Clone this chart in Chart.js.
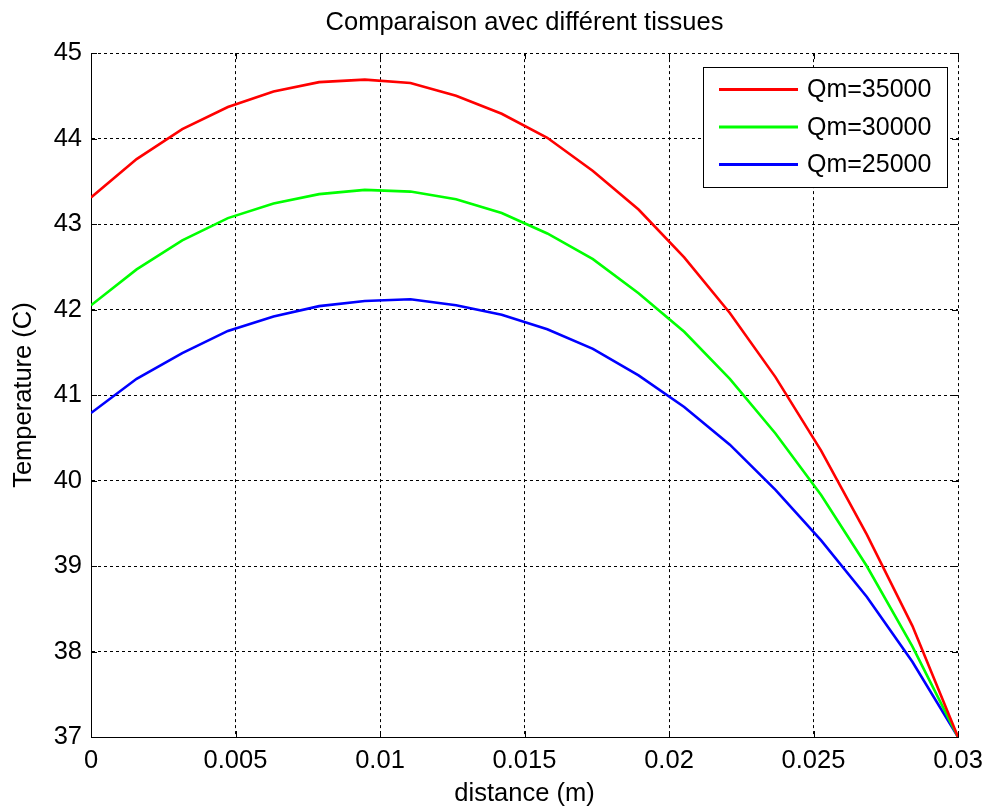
<!DOCTYPE html>
<html>
<head>
<meta charset="utf-8">
<script src="https://cdn.jsdelivr.net/npm/chart.js@4.4.0/dist/chart.umd.min.js"></script>
<style>
  body { margin: 0; background: #fff; }
  canvas { display: block; }
</style>
</head>
<body>
<canvas id="myChart" width="986" height="807"></canvas>
<script>
// distance (m), 20 samples from 0 to 0.03
const distance = [0, 0.001579, 0.003158, 0.004737, 0.006316, 0.007895, 0.009474, 0.011053, 0.012632, 0.014211,
                  0.015789, 0.017368, 0.018947, 0.020526, 0.022105, 0.023684, 0.025263, 0.026842, 0.028421, 0.03];
const qm35000 = [43.31, 43.76, 44.11, 44.37, 44.55, 44.66, 44.69, 44.65, 44.50, 44.29,
                 44.01, 43.62, 43.17, 42.61, 41.96, 41.21, 40.35, 39.37, 38.30, 37.0];
const qm30000 = [42.05, 42.47, 42.81, 43.07, 43.24, 43.35, 43.40, 43.38, 43.29, 43.13,
                 42.89, 42.59, 42.19, 41.74, 41.19, 40.55, 39.83, 39.00, 38.06, 37.0];
const qm25000 = [40.79, 41.19, 41.49, 41.75, 41.92, 42.04, 42.10, 42.12, 42.05, 41.94,
                 41.77, 41.54, 41.23, 40.86, 40.42, 39.89, 39.30, 38.64, 37.88, 37.0];
const seriesNames = ['Qm=35000', 'Qm=30000', 'Qm=25000'];
const xTicks = [0, 0.005, 0.01, 0.015, 0.02, 0.025, 0.03];
const yTicks = [37, 38, 39, 40, 41, 42, 43, 44, 45];

const FONT = "'Liberation Sans', Arial, Helvetica, sans-serif";
Chart.defaults.font.family = FONT;
Chart.defaults.color = '#000';

const pts = arr => arr.map((v, i) => ({x: distance[i], y: v}));

// MATLAB style: inward tick marks, legend box inside the axes
const matlabAxes = {
    id: 'matlabAxes',
    beforeDatasetsDraw(chart) {
        const {ctx, chartArea: a, scales: {x, y}} = chart;
        ctx.save();
        ctx.strokeStyle = '#000';
        ctx.lineWidth = 1;
        ctx.beginPath();
        xTicks.forEach(t => {
            const px = Math.round(x.getPixelForValue(t)) + 0.5;
            ctx.moveTo(px, a.bottom); ctx.lineTo(px, a.bottom - 6);
            ctx.moveTo(px, a.top); ctx.lineTo(px, a.top + 6);
        });
        yTicks.forEach(t => {
            const py = Math.round(y.getPixelForValue(t)) + 0.5;
            ctx.moveTo(a.left, py); ctx.lineTo(a.left + 6, py);
            ctx.moveTo(a.right, py); ctx.lineTo(a.right - 6, py);
        });
        ctx.stroke();
        ctx.restore();
    },
    afterDraw(chart) {
        const {ctx, chartArea: a} = chart;
        const bw = 244, bh = 120;
        const bx = a.right - 11 - bw, by = a.top + 14;
        ctx.save();
        ctx.fillStyle = '#fff';
        ctx.fillRect(bx, by, bw, bh);
        ctx.strokeStyle = '#000';
        ctx.lineWidth = 1;
        ctx.strokeRect(Math.round(bx) + 0.5, Math.round(by) + 0.5, bw, bh);
        ctx.font = '25px ' + FONT;
        ctx.textBaseline = 'middle';
        chart.data.datasets.forEach((ds, i) => {
            const ry = by + 22.5 + i * 37.5;
            ctx.strokeStyle = ds.borderColor;
            ctx.lineWidth = 3;
            ctx.beginPath();
            ctx.moveTo(bx + 16, ry);
            ctx.lineTo(bx + 95, ry);
            ctx.stroke();
            ctx.fillStyle = '#000';
            ctx.fillText(ds.label, bx + 104, ry + 1);
        });
        ctx.restore();
    }
};

const ctx = document.getElementById('myChart').getContext('2d');
const chart = new Chart(ctx, {
    type: 'line',
    data: {
        datasets: [
            {label: seriesNames[0], data: pts(qm35000), borderColor: '#ff0000'},
            {label: seriesNames[1], data: pts(qm30000), borderColor: '#00ff00'},
            {label: seriesNames[2], data: pts(qm25000), borderColor: '#0000ff'}
        ]
    },
    options: {
        responsive: false,
        animation: false,
        devicePixelRatio: 1,
        layout: { padding: {left: 0, right: 28, top: 0, bottom: 0} },
        elements: {
            line: { borderWidth: 2.6, tension: 0, fill: false },
            point: { radius: 0, hoverRadius: 0 }
        },
        plugins: {
            legend: { display: false },
            tooltip: { enabled: false },
            title: {
                display: true,
                fullSize: false,
                text: 'Comparaison avec différent tissues',
                font: { size: 25.5, weight: 'normal', lineHeight: 1.2 },
                padding: { top: 7.5, bottom: 15 }
            }
        },
        scales: {
            x: {
                type: 'linear',
                min: 0, max: 0.03,
                afterBuildTicks: s => { s.ticks = xTicks.map(v => ({value: v})); },
                afterFit: s => { s.height = 70; s.paddingLeft = 0; s.paddingRight = 0; },
                ticks: {
                    font: { size: 25.5 },
                    padding: 9,
                    maxRotation: 0,
                    callback: v => String(+v.toFixed(3))
                },
                grid: { color: '#000', lineWidth: 1, drawTicks: false },
                border: { display: true, color: '#000', width: 1, dash: [3, 3] },
                title: {
                    display: true,
                    text: 'distance (m)',
                    font: { size: 25.5, lineHeight: 1 },
                    padding: { top: 0, bottom: 0 }
                }
            },
            y: {
                min: 37, max: 45,
                afterBuildTicks: s => { s.ticks = yTicks.map(v => ({value: v})); },
                afterFit: s => { s.width = 91; },
                ticks: { font: { size: 25.5 }, padding: 9 },
                grid: { color: '#000', lineWidth: 1, drawTicks: false },
                border: { display: true, color: '#000', width: 1, dash: [3, 3] },
                title: {
                    display: true,
                    text: 'Temperature (C)',
                    font: { size: 25.5, lineHeight: 1 },
                    padding: { top: 11, bottom: 0 }
                }
            }
        }
    },
    plugins: [matlabAxes]
});
</script>
</body>
</html>
